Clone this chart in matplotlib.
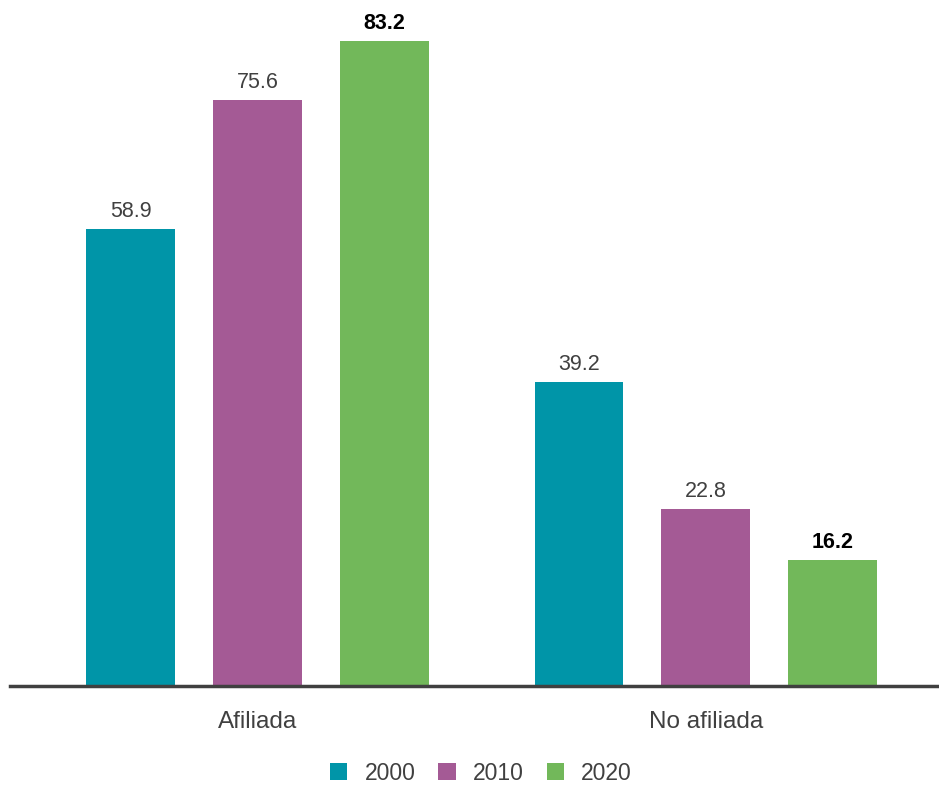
import matplotlib.pyplot as plt
import numpy as np

categories = ["Afiliada", "No afiliada"]
years = ["2000", "2010", "2020"]
values_2000 = [58.9, 39.2]
values_2010 = [75.6, 22.8]
values_2020 = [83.2, 16.2]

colors = ["#0095A8", "#A45A95", "#72B85A"]

plt.rcParams["font.family"] = ["Liberation Sans", "DejaVu Sans"]

W, H = 939, 787
fig = plt.figure(figsize=(W / 100, H / 100), dpi=100)
ax = fig.add_axes([10 / W, (H - 686) / H, (938 - 10) / W, 686 / H])

x = np.arange(len(categories))
width = 0.198
offset = 0.283
series = [values_2000, values_2010, values_2020]
for i, (vals, year, col) in enumerate(zip(series, years, colors)):
    pos = x + (i - 1) * offset
    ax.bar(pos, vals, width=width, color=col, label=year, zorder=2)
    for p, v in zip(pos, vals):
        ax.text(p, v + 0.9, f"{v:.1f}", ha="center", va="bottom", fontsize=15.5,
                color="#000000" if i == 2 else "#404040",
                fontweight="bold" if i == 2 else "normal")

ax.set_xlim(-0.552, 1.518)
ax.set_ylim(0, 88.5)
for side in ["top", "right", "left"]:
    ax.spines[side].set_visible(False)
ax.spines["bottom"].set_color("#404040")
ax.spines["bottom"].set_linewidth(2.5)
ax.spines["bottom"].set_zorder(3)
ax.set_yticks([])
ax.set_xticks(x)
ax.set_xticklabels(categories, fontsize=17.5, color="#404040")
ax.tick_params(axis="x", length=0, pad=18)

fig.legend(loc="center", bbox_to_anchor=(481 / W, 1 - 773 / H), ncol=3,
           frameon=False, fontsize=16.5, handlelength=0.75, handleheight=0.75,
           handletextpad=0.75, columnspacing=1.0, labelcolor="#404040")

fig.savefig("out.png", dpi=100)
